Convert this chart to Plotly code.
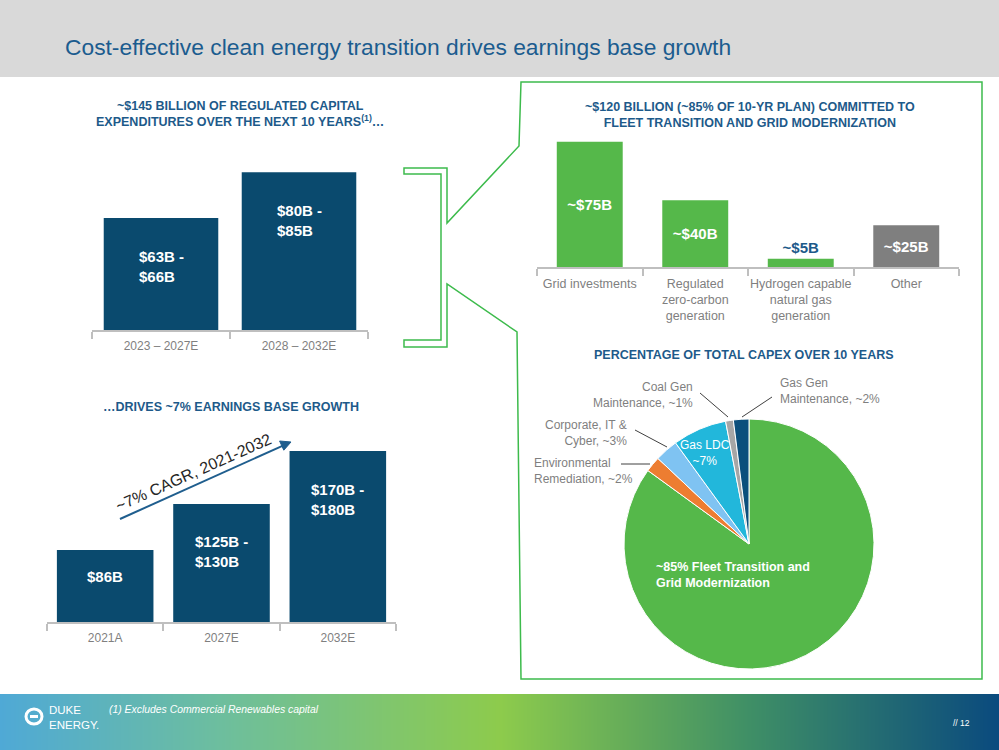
import plotly.graph_objects as go

W, H = 999, 750


def px(x):
    return x / W


def py(y):
    return 1 - y / H


def path_from(points, close=False):
    s = "M " + " L ".join(f"{px(x):.5f},{py(y):.5f}" for x, y in points)
    return s + (" Z" if close else "")


# ---------------- data ----------------
TITLE = "Cost-effective clean energy transition drives earnings base growth"

capex_periods = ["2023 – 2027E", "2028 – 2032E"]
capex_labels = ["$63B -<br>$66B", "$80B -<br>$85B"]
capex_values = [64.5, 82.5]

earn_years = ["2021A", "2027E", "2032E"]
earn_labels = ["$86B", "$125B -<br>$130B", "$170B -<br>$180B"]
earn_values = [86, 127.5, 175]

alloc_cats = ["Grid investments", "Regulated<br>zero-carbon<br>generation",
              "Hydrogen capable<br>natural gas<br>generation", "Other"]
alloc_values = [75, 40, 5, 25]
alloc_labels = ["~$75B", "~$40B", "~$5B", "~$25B"]

pie_names = ["Fleet Transition and<br>Grid Modernization", "Environmental<br>Remediation",
             "Corporate, IT &<br>Cyber", "Gas LDC", "Coal Gen<br>Maintenance", "Gas Gen<br>Maintenance"]
pie_values = [85, 2, 3, 7, 1, 2]

# ---------------- styles ----------------
SANS = "Liberation Sans, Arial, sans-serif"
BLUE_TXT = "#1D5A8A"
DARK_BAR = "#0A4A6E"
GREEN = "#55B84A"
GRAY_BAR = "#7F7F7F"
TICK_GRAY = "#7F7F7F"
AXIS_GRAY = "#BFBFBF"
OUTLINE_GREEN = "#3DBB4C"
pie_colors = [GREEN, "#ED7D31", "#7FC3F2", "#22B7DB", "#A6A6A6", "#0B4F7C"]

fig = go.Figure()

# footer gradient
grad_x = [i / 10 for i in range(11)]
fig.add_trace(go.Heatmap(
    z=[grad_x, grad_x], x=grad_x, y=[0, 1],
    colorscale=[[0, "#4FA9D6"], [0.22, "#6DBE9E"], [0.5, "#8DCB4C"],
                [0.75, "#3F8F66"], [1, "#0A4A7E"]],
    zsmooth="best", showscale=False, hoverinfo="skip",
    xaxis="x4", yaxis="y4"))

# top-left capex bars
fig.add_trace(go.Bar(x=capex_periods, y=capex_values, marker_color=DARK_BAR,
                     marker_line_width=0, hoverinfo="skip", xaxis="x", yaxis="y"))
# bottom-left earnings base bars
fig.add_trace(go.Bar(x=earn_years, y=earn_values, marker_color=DARK_BAR,
                     marker_line_width=0, hoverinfo="skip", xaxis="x2", yaxis="y2"))
# top-right allocation bars
fig.add_trace(go.Bar(
    x=alloc_cats, y=alloc_values, width=0.625,
    marker_color=[GREEN, GREEN, GREEN, GRAY_BAR], marker_line_width=0,
    text=alloc_labels, textposition=["inside", "inside", "outside", "inside"],
    insidetextanchor="middle", textangle=0, constraintext="none", cliponaxis=False,
    textfont=dict(family=SANS, size=15, color=["white", "white", BLUE_TXT, "white"],
                  weight="bold"),
    hoverinfo="skip", xaxis="x3", yaxis="y3"))

# pie
pie_cx, pie_cy, pie_r = 749, 544, 125
fig.add_trace(go.Pie(
    values=pie_values, labels=pie_names, sort=False, direction="clockwise", rotation=0,
    marker=dict(colors=pie_colors, line=dict(color="white", width=1)),
    textinfo="none", hoverinfo="skip", showlegend=False,
    domain=dict(x=[px(pie_cx - pie_r), px(pie_cx + pie_r)],
                y=[py(pie_cy + pie_r), py(pie_cy - pie_r)])))

cat_axis = dict(type="category", showline=True, linecolor=AXIS_GRAY, linewidth=1.5,
                ticks="outside", tickson="boundaries", ticklen=7, tickcolor=AXIS_GRAY,
                tickwidth=1.5, tickangle=0, ticklabelstandoff=4,
                tickfont=dict(family=SANS, size=12, color=TICK_GRAY),
                showgrid=False, zeroline=False, fixedrange=True)

annotations = []
shapes = []

# header band
shapes.append(dict(type="rect", xref="paper", yref="paper", x0=0, x1=1, y0=py(77), y1=1,
                   fillcolor="#D9D9D9", line_width=0, layer="below"))

annotations.append(dict(text=TITLE, xref="paper", yref="paper", x=px(63), y=py(47),
                        xanchor="left", yanchor="middle", showarrow=False,
                        font=dict(family=SANS, size=22.8, color="#1B5C8F")))


def subtitle(text, x, y):
    annotations.append(dict(text=f"<b>{text}</b>", xref="paper", yref="paper", x=px(x), y=py(y),
                            xanchor="center", yanchor="middle", showarrow=False, align="center",
                            font=dict(family=SANS, size=12.5, color=BLUE_TXT)))


subtitle("~$145 BILLION OF REGULATED CAPITAL<br>EXPENDITURES OVER THE NEXT 10 YEARS<sup>(1)</sup>…", 240, 114)
subtitle("…DRIVES ~7% EARNINGS BASE GROWTH", 231, 407)
subtitle("~$120 BILLION (~85% OF 10-YR PLAN) COMMITTED TO<br>FLEET TRANSITION AND GRID MODERNIZATION", 750, 115)
subtitle("PERCENTAGE OF TOTAL CAPEX OVER 10 YEARS", 744, 355)

# bar labels (left charts)
for xs, vs, labs, xr, yr in [(capex_periods, capex_values, capex_labels, "x", "y"),
                              (earn_years, earn_values, earn_labels, "x2", "y2")]:
    for c, v, t in zip(xs, vs, labs):
        two = "<br>" in t
        annotations.append(dict(text=f"<b>{t}</b>", x=c, y=v, xref=xr, yref=yr,
                                xanchor="center", yanchor="middle", align="left",
                                yshift=-48 if two else -26, showarrow=False,
                                font=dict(family=SANS, size=15, color="white")))

# CAGR arrow and label
shapes.append(dict(type="line", xref="paper", yref="paper", x0=px(120), y0=py(519),
                   x1=px(283), y1=py(445.6), line=dict(color="#1F5E8E", width=2)))
shapes.append(dict(type="path", xref="paper", yref="paper",
                   path=path_from([(291, 442), (283.8, 450.2), (279.6, 441.0)], close=True),
                   fillcolor="#1F5E8E", line=dict(color="#1F5E8E", width=1)))
annotations.append(dict(text="~7% CAGR, 2021-2032", xref="paper", yref="paper", x=px(193), y=py(472),
                        xanchor="center", yanchor="middle", textangle=-24, showarrow=False,
                        font=dict(family=SANS, size=16, color="#262626")))

# pie labels
annotations.append(dict(text=f"<b>~{pie_values[0]}% {pie_names[0]}</b>",
                        xref="paper", yref="paper", x=px(654), y=py(575), xanchor="left",
                        yanchor="middle", align="left", showarrow=False,
                        font=dict(family=SANS, size=12.5, color="white")))
annotations.append(dict(text=f"{pie_names[3]}<br>~{pie_values[3]}%", xref="paper", yref="paper",
                        x=px(705), y=py(453), xanchor="center", yanchor="middle", showarrow=False,
                        font=dict(family=SANS, size=12, color="white")))
ext = [
    (4, 695, 395, "right"),
    (5, 778, 391, "left"),
    (2, 629, 433, "right"),
    (1, 532, 471, "left"),
]
for idx, x, y, side in ext:
    annotations.append(dict(text=f"{pie_names[idx]}, ~{pie_values[idx]}%", xref="paper", yref="paper",
                            x=px(x), y=py(y), xanchor=side, yanchor="middle", align=side,
                            showarrow=False, font=dict(family=SANS, size=12, color=TICK_GRAY)))
for (x0, y0, x1, y1) in [(700, 393, 728, 417), (772, 397, 742, 417),
                         (635, 430, 667, 447), (621, 464, 650, 464)]:
    shapes.append(dict(type="line", xref="paper", yref="paper", x0=px(x0), y0=py(y0),
                       x1=px(x1), y1=py(y1), line=dict(color="#404040", width=1)))

# bracket + callout outline
outline = [(404, 168), (447, 168), (447, 223), (519, 146), (521, 82), (982, 82), (982, 679),
           (521, 679), (517, 332), (447, 284), (447, 347), (404, 347), (404, 340),
           (441, 340), (441, 174), (404, 174)]
shapes.append(dict(type="path", xref="paper", yref="paper", path=path_from(outline, close=True),
                   line=dict(color=OUTLINE_GREEN, width=1.5)))

# footer texts
annotations.append(dict(text="<i>(1) Excludes Commercial Renewables capital</i>", xref="paper",
                        yref="paper", x=px(107), y=py(709), xanchor="left", yanchor="middle",
                        showarrow=False, font=dict(family=SANS, size=10.4, color="white")))
annotations.append(dict(text="DUKE<br>ENERGY.", xref="paper", yref="paper", x=px(47), y=py(717),
                        xanchor="left", yanchor="middle", align="left", showarrow=False,
                        font=dict(family=SANS, size=11.5, color="white")))
annotations.append(dict(text="// 12", xref="paper", yref="paper", x=px(972), y=py(723),
                        xanchor="right", yanchor="middle", showarrow=False,
                        font=dict(family=SANS, size=8.5, color="white")))
# logo glyph
shapes.append(dict(type="circle", xref="paper", yref="paper", x0=px(26), x1=px(42),
                   y0=py(724), y1=py(709), line=dict(color="white", width=3)))
shapes.append(dict(type="rect", xref="paper", yref="paper", x0=px(30), x1=px(38),
                   y0=py(718), y1=py(715), fillcolor="white", line_width=0))

fig.update_layout(
    width=W, height=H, margin=dict(l=0, r=0, t=0, b=0),
    paper_bgcolor="white", plot_bgcolor="rgba(0,0,0,0)", showlegend=False,
    bargap=0.17,
    xaxis=dict(cat_axis, domain=[px(92), px(368)], anchor="y"),
    yaxis=dict(domain=[py(330), py(150)], range=[20.6, 91.2], visible=False, fixedrange=True),
    xaxis2=dict(cat_axis, domain=[px(47), px(396)], anchor="y2"),
    yaxis2=dict(domain=[py(622), py(440)], range=[21.2, 185], visible=False, fixedrange=True),
    xaxis3=dict(cat_axis, domain=[px(537), px(959)], anchor="y3",
                tickfont=dict(family=SANS, size=12.5, color=TICK_GRAY)),
    yaxis3=dict(domain=[py(267), py(133.4)], range=[0, 80], visible=False, fixedrange=True),
    xaxis4=dict(domain=[0, 1], range=[0, 1], visible=False, anchor="y4", fixedrange=True),
    yaxis4=dict(domain=[0, py(694)], range=[0, 1], visible=False, anchor="x4", fixedrange=True),
    annotations=annotations, shapes=shapes,
)

fig.write_html("out.html", config={"displayModeBar": False})
